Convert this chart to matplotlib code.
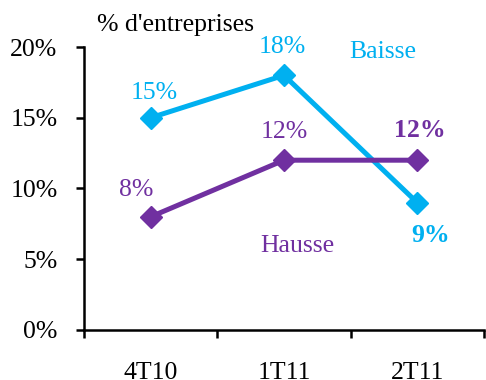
import numpy as np
from matplotlib import pyplot as plt

plt.rcParams['font.family'] = ['Liberation Serif', 'DejaVu Serif']

trimestres = ['4T10', '1T11', '2T11']
baisse = [15, 18, 9]
hausse = [8, 12, 12]

bleu = '#00B0F0'
violet = '#7030A0'
fs = 18.5

fig = plt.figure(figsize=(4.86, 3.8), dpi=100)
ax = fig.add_axes([0.1728, 0.1316, 0.823, 0.7447])

x = np.arange(len(trimestres))
ax.plot(x, baisse, color=bleu, lw=3.6, marker='D', ms=11, clip_on=False)
ax.plot(x, hausse, color=violet, lw=3.6, marker='D', ms=11, clip_on=False)

ax.set_xlim(-0.5, 2.5)
ax.set_ylim(0, 20)
ax.set_yticks(range(0, 21, 5))
ax.set_yticklabels([f'{v}%' for v in range(0, 21, 5)])
ax.set_xticks(x)
ax.set_xticklabels(trimestres)
ax.set_xticks([-0.5, 0.5, 1.5, 2.5], minor=True)
ax.tick_params(axis='x', which='major', length=0, pad=23, labelsize=fs)
ax.tick_params(axis='x', which='minor', length=6, width=1.8, direction='out')
ax.tick_params(axis='y', length=6, width=1.8, direction='out', labelsize=fs, pad=13)

for s in ['top', 'right']:
    ax.spines[s].set_visible(False)
for s in ['left', 'bottom']:
    ax.spines[s].set_linewidth(1.8)

# étiquettes des valeurs
ax.text(0.03, baisse[0] + 1.75, f'{baisse[0]}%', color=bleu, fontsize=fs, ha='center', va='center')
ax.text(0.99, baisse[1] + 2.0, f'{baisse[1]}%', color=bleu, fontsize=fs, ha='center', va='center', clip_on=False)
ax.text(2.1, baisse[2] - 2.3, f'{baisse[2]}%', color=bleu, fontsize=fs, fontweight='bold', ha='center', va='center')
ax.text(-0.11, hausse[0] + 1.9, f'{hausse[0]}%', color=violet, fontsize=fs, ha='center', va='center')
ax.text(1.0, hausse[1] + 2.0, f'{hausse[1]}%', color=violet, fontsize=fs, ha='center', va='center')
ax.text(2.02, hausse[2] + 2.13, f'{hausse[2]}%', color=violet, fontsize=fs, fontweight='bold', ha='center', va='center')

ax.text(1.74, 19.65, 'Baisse', color=bleu, fontsize=fs, ha='center', va='center')
ax.text(1.1, 5.94, 'Hausse', color=violet, fontsize=fs, ha='center', va='center')
ax.text(-0.40, 21.55, "% d'entreprises", color='black', fontsize=fs, ha='left', va='center', clip_on=False)

plt.savefig('out.png', dpi=100)
